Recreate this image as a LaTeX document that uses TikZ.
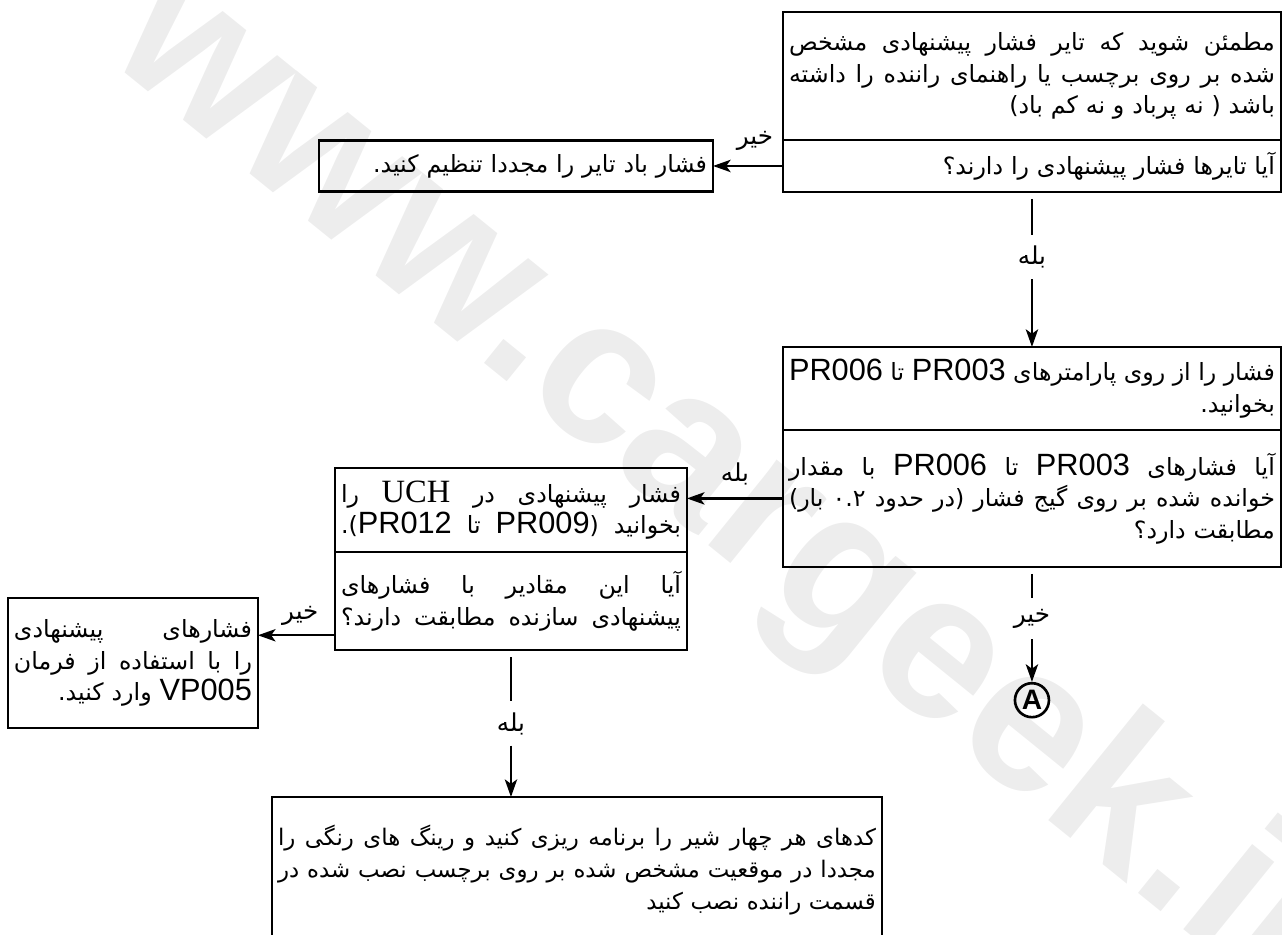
\documentclass[tikz,border=0pt]{standalone}
\usepackage{fontspec}
\usetikzlibrary{arrows.meta,positioning,calc}
\newfontfamily\fafont[Script=Arabic]{DejaVu Sans}
\newfontfamily\lsans{Liberation Sans}
\newfontfamily\lserif{Liberation Serif}
\TeXXeTstate=1
\newcommand{\rl}[1]{\beginR#1\endR}
\newcommand{\jl}[1]{\leavevmode\hbox to \linewidth{\spaceskip=\fontdimen2\font plus 1fil minus 0.1em\beginR#1\endR}}
\newcommand{\pr}[1]{{\lsans\fontsize{17.5}{18}\selectfont#1}}
\newcommand{\uch}[1]{{\lserif\fontsize{18.5}{18}\selectfont#1}}

\begin{document}
\begin{tikzpicture}[
    x=0.02cm, y=-0.02cm,
    box/.style={draw, line width=1.5pt, outer sep=0pt, inner xsep=0.12cm, inner ysep=0.05cm, align=right, font=\fafont\fontsize{13.5}{18}\selectfont},
    lbl/.style={inner sep=2pt, font=\fafont\fontsize{14}{15}\selectfont},
    gap/.style={lbl, inner ysep=6pt},
    arrow/.style={-{Stealth[length=10pt,width=7pt,inset=2.5pt]}, line width=1.3pt},
    endpt/.style={draw, circle, line width=1.5pt, minimum size=0.68cm, inner sep=0pt, font=\lsans\bfseries\fontsize{16}{16}\selectfont}
]
\useasboundingbox (0,0) rectangle (1282,934);
\node[rotate=-39, anchor=west, text=gray!14, font=\lsans\bfseries\fontsize{118}{118}\selectfont] (wm) at (132,10) {www.cargeek.ir};

\node[box, text width=9.72cm, minimum height=2.56cm, anchor=north west] (s1) at (783,12)
  {\jl{مطمئن شوید که تایر فشار پیشنهادی مشخص}\\\jl{شده بر روی برچسب یا راهنمای راننده را داشته}\\\rl{باشد ( نه پرباد و نه کم باد)}};
\node[box, text width=9.72cm, minimum height=1.04cm, below=0pt of s1] (q1)
  {\rl{آیا تایرها فشار پیشنهادی را دارند؟}};
\node[box, text width=7.64cm, minimum height=1.02cm, left=1.4cm of q1] (fix1)
  {\rl{فشار باد تایر را مجددا تنظیم کنید.}};

\node[box, text width=9.72cm, minimum height=1.66cm, below=3.1cm of q1] (s3)
  {\jl{فشار را از روی پارامترهای \pr{PR003} تا \pr{PR006}}\\\rl{بخوانید.}};
\node[box, text width=9.72cm, minimum height=2.74cm, below=0pt of s3] (q3)
  {\jl{آیا فشارهای \pr{PR003} تا \pr{PR006} با مقدار}\\\jl{خوانده شده بر روی گیج فشار (در حدود ۰.۲ بار)}\\\rl{مطابقت دارد؟}};

\node[box, text width=6.8cm, minimum height=1.68cm, anchor=north west] (s4) at (335,468)
  {\jl{فشار پیشنهادی در \uch{UCH} را}\\\jl{بخوانید (\pr{PR009} تا \pr{PR012}).}};
\node[box, text width=6.8cm, minimum height=1.96cm, below=0pt of s4] (q4)
  {\jl{آیا این مقادیر با فشارهای}\\\jl{پیشنهادی سازنده مطابقت دارند؟}};
\node[box, text width=4.76cm, minimum height=2.6cm, anchor=north west] (fix4) at (8,598)
  {\jl{فشارهای پیشنهادی}\\\jl{را با استفاده از فرمان}\\\rl{\pr{VP005} وارد کنید.}};

\node[box, text width=11.96cm, minimum height=2.92cm, anchor=north west, font=\fafont\fontsize{13}{18}\selectfont] (s6) at (272,797)
  {\jl{کدهای هر چهار شیر را برنامه ریزی کنید و رینگ های رنگی را}\\\jl{مجددا در موقعیت مشخص شده بر روی برچسب نصب شده در}\\\rl{قسمت راننده نصب کنید}};

\node[endpt, below=2.3cm of q3] (ptA) {A};

\draw[arrow] (q1) -- node[lbl, above=6pt, pos=0.4] (n1) {\rl{خیر}} (fix1);

\path (q1) -- node[gap, pos=0.42] (y1) {\rl{بله}} (s3);
\draw[line width=1.3pt, shorten <=4pt] (q1) -- (y1);
\draw[arrow] (y1) -- (s3);

\draw[arrow] (q3.west) -- node[lbl, above=5pt] (y2) {\rl{بله}} (q3.west -| s4.east);

\path (q3) -- node[gap, pos=0.45] (n3) {\rl{خیر}} (ptA);
\draw[line width=1.3pt, shorten <=4pt] (q3) -- (n3);
\draw[arrow] (n3) -- (ptA);

\coordinate (a4) at ($(q4.west)!0.7!(q4.south west)$);
\draw[arrow] (a4) -- node[lbl, above=3pt, pos=0.45] (n4) {\rl{خیر}} (a4 -| fix4.east);

\path (q4.south) -- node[gap] (y3) {\rl{بله}} (q4.south |- s6.north);
\draw[line width=1.3pt, shorten <=4pt] (q4) -- (y3);
\draw[arrow] (y3) -- (y3 |- s6.north);
\end{tikzpicture}
\end{document}
